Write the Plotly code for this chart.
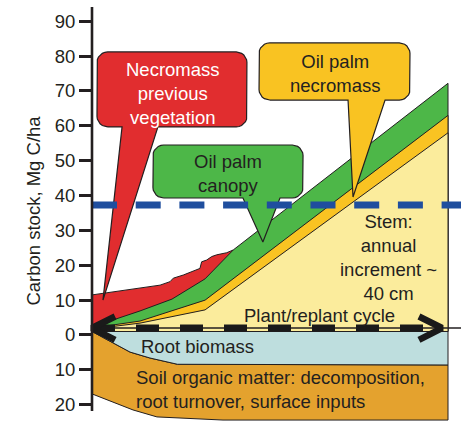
import numpy as np
import plotly.graph_objects as go

# ---------------- data (x: years of the plant/replant cycle, y: Mg C/ha) -------------
tick_vals = [-20, -10, 0, 10, 20, 30, 40, 50, 60, 70, 80, 90]
tick_text = ["20", "10", "0", "10", "20", "30", "40", "50", "60", "70", "80", "90"]

base_level = 1.0          # level of the plant/replant cycle line (bottom of the above-ground stack)
cycle_level = 2.0         # level of the dashed plant/replant arrow
cycle_end = 24.58         # end of the plant/replant arrow
cycle_length = 25.0

# necromass of previous vegetation (top boundary, jagged)
x_red = [0, 1.47, 2.32, 3.37, 4.07, 4.78, 5.48, 5.71, 6.41, 6.88, 7.58, 7.70, 8.05, 8.41, 8.76, 9.46, 9.92]
y_red = [11.5, 12.3, 12.9, 13.4, 13.7, 14.3, 15.3, 16.3, 17.2, 17.9, 19.1, 21.0, 21.5, 22.5, 23.0, 23.6, 24.4]

# oil palm canopy (top boundary)
x_canopy = [0, 3.37, 5.62, 7.94, 9.92, 25.0]
y_canopy = [2.3, 6.9, 10.3, 16.1, 24.4, 72.2]

# oil palm necromass (top boundary)
x_necro = [0, 3.37, 7.94, 25.0]
y_necro = [2.0, 4.0, 10.0, 63.0]

# stem (top boundary)
x_stem = [0, 3.37, 7.94, 25.0]
y_stem = [1.7, 3.4, 7.2, 58.0]

# root biomass (bottom boundary, below ground)
x_root = [0, 2.67, 4.07, 6.0, 25.0]
y_root = [1.0, -4.9, -6.6, -8.4, -8.6]

# soil organic matter (bottom boundary)
x_soil = [0, 2.88, 4.56, 9.2, 25.0]
y_soil = [-16.9, -21.5, -23.5, -24.4, -24.4]

reference_level = 37.3    # blue dashed reference line

# ---------------- style ----------------
FONT = "Liberation Sans, Arial, Helvetica, sans-serif"
INK = "#231F20"
C_RED = "#E12D2F"
C_GREEN = "#4DB748"
C_ORANGE = "#F9C322"
C_STEM = "#FBEC9C"
C_ROOT = "#BEDEDE"
C_SOIL = "#E4A22E"
C_BLUE = "#1F4E9E"
FS = 18.5

X_RANGE = [-6.461, 25.913]
Y_RANGE = [-24.96, 96.10]

fig = go.Figure()


def poly(xs, ys, color, lw=1.0):
    fig.add_trace(go.Scatter(x=xs, y=ys, fill="toself", fillcolor=color, mode="lines",
                             line=dict(color=INK, width=lw), hoverinfo="skip", showlegend=False))


# below-ground
poly(x_root + x_soil[::-1], y_root + y_soil[::-1], C_SOIL)
poly([0, cycle_length] + x_root[::-1], [base_level, base_level] + y_root[::-1], C_ROOT)

# above-ground stack
poly(x_red + [x_red[-1], 0], y_red + [base_level, base_level], C_RED)
poly(x_canopy + [cycle_length, 0], y_canopy + [base_level, base_level], C_GREEN)
poly(x_necro + [cycle_length, 0], y_necro + [base_level, base_level], C_ORANGE)
poly(x_stem + [cycle_length, 0], y_stem + [base_level, base_level], C_STEM)

# thin ground line
fig.add_trace(go.Scatter(x=[0, X_RANGE[1]], y=[cycle_level, cycle_level], mode="lines",
                         line=dict(color=INK, width=1.5), hoverinfo="skip", showlegend=False))

# plant/replant dashed double arrow
fig.add_trace(go.Scatter(x=[0, cycle_end], y=[cycle_level, cycle_level], mode="lines",
                         line=dict(color="#1A1A1A", width=7, dash="23px,21px"),
                         hoverinfo="skip", showlegend=False))
arm_dx, arm_up, arm_dn = 1.62, 3.3, -3.4
for tip_x, sgn in [(0, 1), (cycle_end, -1)]:
    fig.add_trace(go.Scatter(
        x=[tip_x + sgn * arm_dx, tip_x, tip_x + sgn * arm_dx],
        y=[cycle_level + arm_up, cycle_level, cycle_level + arm_dn],
        mode="lines", line=dict(color="#1A1A1A", width=6.5), hoverinfo="skip", showlegend=False))


def callout(x0, x1, y0, y1, ta, tb, tip, rx=0.75, ry=3.0, n=7):
    xs, ys = [], []

    def arc(cx, cy, a0, a1):
        for t in np.linspace(a0, a1, n):
            xs.append(cx + rx * np.cos(t))
            ys.append(cy + ry * np.sin(t))

    arc(x0 + rx, y0 + ry, 1.5 * np.pi, np.pi)
    arc(x0 + rx, y1 - ry, np.pi, 0.5 * np.pi)
    arc(x1 - rx, y1 - ry, 0.5 * np.pi, 0)
    arc(x1 - rx, y0 + ry, 0, -0.5 * np.pi)
    xs += [tb, tip[0], ta, xs[0]]
    ys += [y0, tip[1], y0, ys[0]]
    return xs, ys


cx, cy = callout(0.35, 10.88, 59.7, 81.2, 2.11, 4.63, (0.77, 10.0))
poly(cx, cy, C_RED, 1.2)
cx, cy = callout(4.28, 14.82, 39.3, 54.5, 10.6, 13.2, (12.0, 26.7))
poly(cx, cy, C_GREEN, 1.2)
cx, cy = callout(11.73, 22.33, 67.4, 83.8, 17.98, 20.58, (18.33, 39.6))
poly(cx, cy, C_ORANGE, 1.2)

# blue dashed reference line
fig.add_trace(go.Scatter(x=[0, X_RANGE[1]], y=[reference_level, reference_level], mode="lines",
                         line=dict(color=C_BLUE, width=7, dash="25px,18.7px"),
                         hoverinfo="skip", showlegend=False))

# y-axis line
fig.add_shape(type="line", x0=0, x1=0, y0=-21.8, y1=94.1, xref="x", yref="y",
              line=dict(color=INK, width=2.6))


def label(text, x, y, color=INK, xanchor="center", align="center"):
    fig.add_annotation(x=x, y=y, text=text, showarrow=False, xanchor=xanchor, yanchor="middle",
                       align=align, font=dict(family=FONT, size=FS, color=color))


label("Necromass<br>previous<br>vegetation", 5.69, 69.4, color="white")
label("Oil palm<br>canopy", 9.55, 46.2)
label("Oil palm<br>necromass", 17.06, 74.9)
label("Stem:<br>annual<br>increment ~<br>40 cm", 20.79, 22.1)
label("Plant/replant cycle", 16.0, 5.5)
label("Root biomass", 7.44, -3.4)
label("Soil organic matter: decomposition,<br>root turnover, surface inputs", 2.95, -15.6,
      xanchor="left", align="left")

fig.update_layout(
    width=461, height=422,
    margin=dict(l=0, r=0, t=0, b=0, autoexpand=False),
    paper_bgcolor="white", plot_bgcolor="white",
    showlegend=False,
    xaxis=dict(range=X_RANGE, visible=False, fixedrange=True, automargin=False),
    yaxis=dict(range=Y_RANGE, anchor="free", position=92 / 461, side="left",
               automargin=False,
               tickvals=tick_vals, ticktext=tick_text, ticks="outside", ticklen=13,
               tickwidth=2.6, tickcolor=INK, showline=False, showgrid=False, zeroline=False,
               tickfont=dict(family=FONT, size=FS, color=INK),
               title=dict(text="Carbon stock, Mg C/ha", standoff=8,
                          font=dict(family=FONT, size=FS, color=INK)),
               fixedrange=True),
)

fig.write_html("out.html", config={"displayModeBar": False},
               post_script="document.body.style.margin='0';document.body.style.overflow='hidden';")
